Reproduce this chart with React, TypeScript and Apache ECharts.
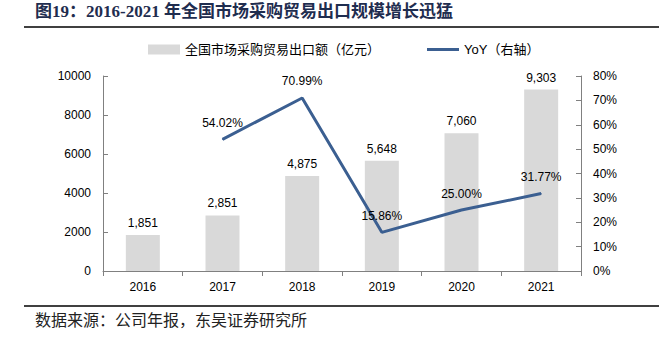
import React, { useEffect, useRef } from "react";
import * as echarts from "echarts";

const years = ["2016", "2017", "2018", "2019", "2020", "2021"];
const exportValues = [1851, 2851, 4875, 5648, 7060, 9303];
const yoyValues: (number | null)[] = [null, 54.02, 70.99, 15.86, 25.0, 31.77];
const barName = "全国市场采购贸易出口额（亿元）";
const lineName = "YoY（右轴）";
const titleText = "图19：2016-2021 年全国市场采购贸易出口规模增长迅猛";
const sourceText = "数据来源：公司年报，东吴证券研究所";

export default function App() {
  const ref = useRef<HTMLDivElement>(null);
  useEffect(() => {
    if (!ref.current) return;
    const chart = echarts.init(ref.current, undefined, { renderer: "svg" });
    const sans = "Liberation Sans, Arial, Noto Sans CJK SC, sans-serif";
    const serif = "Liberation Serif, Times New Roman, Noto Sans CJK SC, serif";
    const lineColor = "#3b5f91";
    chart.setOption({
      animation: false,
      backgroundColor: "#ffffff",
      grid: { left: 103, right: 78, top: 76, bottom: 66 },
      legend: {
        left: 143,
        top: 38,
        itemWidth: 32,
        itemHeight: 10,
        itemGap: 47,
        textStyle: { fontSize: 13, color: "#000", fontFamily: sans },
        data: [
          { name: barName, icon: "rect" },
          {
            name: lineName,
            icon: "path://M0,3.5 H32 V6.5 H0 Z M0,0 H0.01 V0.01 H0 Z M31.99,9.99 H32 V10 H31.99 Z",
            itemStyle: { color: lineColor },
          },
        ],
      },
      xAxis: {
        type: "category",
        data: years,
        axisLine: { lineStyle: { color: "#808080" } },
        axisTick: { show: true, alignWithLabel: false, lineStyle: { color: "#808080" } },
        axisLabel: { color: "#000", fontSize: 12, fontFamily: sans, margin: 10 },
      },
      yAxis: [
        {
          type: "value",
          min: 0,
          max: 10000,
          interval: 2000,
          axisLine: { show: true, lineStyle: { color: "#808080" } },
          axisTick: { show: true, inside: true, lineStyle: { color: "#808080" } },
          splitLine: { show: false },
          axisLabel: { color: "#000", fontSize: 12, fontFamily: sans, margin: 12, formatter: (v: number) => String(v) },
        },
        {
          type: "value",
          min: 0,
          max: 80,
          interval: 10,
          position: "right",
          axisLine: { show: true, lineStyle: { color: "#808080" } },
          axisTick: { show: true, inside: true, lineStyle: { color: "#808080" } },
          splitLine: { show: false },
          axisLabel: { color: "#000", fontSize: 12, fontFamily: sans, margin: 12, formatter: "{value}%" },
        },
      ],
      series: [
        {
          name: barName,
          type: "bar",
          data: exportValues,
          barWidth: 34,
          itemStyle: { color: "#d9d9d9" },
          label: {
            show: true,
            position: "top",
            distance: 6,
            color: "#000",
            fontSize: 12,
            fontFamily: sans,
            formatter: (p: any) => Number(p.value).toLocaleString("en-US"),
          },
        },
        {
          name: lineName,
          type: "line",
          yAxisIndex: 1,
          data: yoyValues,
          symbol: "circle",
          symbolSize: 1,
          showSymbol: true,
          lineStyle: { color: lineColor, width: 3 },
          itemStyle: { color: lineColor },
          label: {
            show: true,
            position: "top",
            distance: 10,
            color: "#000",
            fontSize: 12,
            fontFamily: sans,
            formatter: (p: any) => (p.value == null ? "" : Number(p.value).toFixed(2) + "%"),
          },
          z: 5,
        },
      ],
      graphic: [
        {
          type: "text",
          left: 35,
          top: 3,
          style: {
            text: titleText,
            font: "bold 17px " + serif,
            fill: "#1f2d4f",
          },
        },
        {
          type: "line",
          shape: { x1: 24, y1: 27, x2: 659, y2: 27 },
          style: { stroke: "#000", lineWidth: 1.5 },
        },
        {
          type: "line",
          shape: { x1: 24, y1: 306, x2: 659, y2: 306 },
          style: { stroke: "#000", lineWidth: 1.5 },
        },
        {
          type: "text",
          left: 35,
          top: 312,
          style: {
            text: sourceText,
            font: "16px " + serif,
            fill: "#222",
          },
        },
      ],
    });
    return () => chart.dispose();
  }, []);
  return <div ref={ref} style={{ width: 659, height: 337, position: "fixed", left: 0, top: 0 }} />;
}
